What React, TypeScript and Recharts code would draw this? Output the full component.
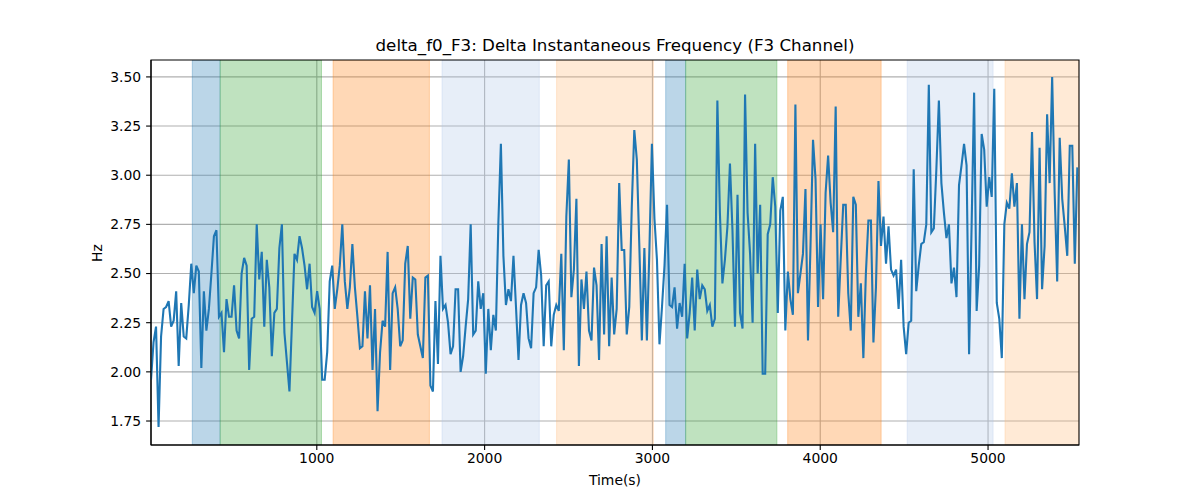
import { ComposedChart, Line, XAxis, YAxis, CartesianGrid, ReferenceArea } from 'recharts';

// sampling of the instantaneous-frequency track (seconds)
const T0 = 12;
const DT = 15;

// delta f0, F3 channel (Hz)
const freqHz = [
  1.96, 2.15, 2.23, 1.72, 2.18, 2.32, 2.33, 2.36, 2.23, 2.26, 2.41, 2.03, 2.35, 2.18, 2.17, 2.34,
  2.55, 2.4, 2.54, 2.51, 2.02, 2.41, 2.21, 2.32, 2.5, 2.69, 2.72, 2.28, 2.3, 2.1, 2.37, 2.28,
  2.28, 2.44, 2.21, 2.17, 2.5, 2.58, 2.54, 2.01, 2.27, 2.28, 2.75, 2.47, 2.61, 2.23, 2.57, 2.43,
  2.08, 2.3, 2.32, 2.63, 2.75, 2.2, 2.05, 1.9, 2.25, 2.6, 2.57, 2.69, 2.63, 2.54, 2.42, 2.55,
  2.33, 2.3, 2.41, 2.32, 1.96, 1.96, 2.1, 2.46, 2.54, 2.32, 2.42, 2.54, 2.75, 2.46, 2.32, 2.43,
  2.65, 2.43, 2.28, 2.12, 2.13, 2.41, 2.17, 2.44, 2.01, 2.32, 1.8, 2.1, 2.26, 2.23, 2.61, 2.01,
  2.4, 2.43, 2.32, 2.13, 2.16, 2.55, 2.64, 2.27, 2.48, 2.47, 2.19, 2.13, 2.07, 2.48, 2.49, 1.93,
  1.9, 2.36, 2.04, 2.59, 2.32, 2.34, 2.25, 2.09, 2.13, 2.42, 2.42, 2.0, 2.08, 2.23, 2.37, 2.75,
  2.19, 2.21, 2.46, 2.32, 2.4, 1.99, 2.32, 2.11, 2.29, 2.21, 2.76, 3.16, 2.59, 2.34, 2.42, 2.36,
  2.59, 2.33, 2.06, 2.34, 2.4, 2.35, 2.17, 2.12, 2.4, 2.43, 2.62, 2.49, 2.13, 2.44, 2.46, 2.13,
  2.29, 2.34, 2.31, 2.6, 2.11, 2.79, 3.08, 2.38, 2.52, 2.88, 2.03, 2.47, 2.32, 2.51, 2.21, 2.16,
  2.53, 2.44, 2.06, 2.65, 2.19, 2.69, 2.13, 2.48, 2.19, 2.32, 2.96, 2.62, 2.62, 2.19, 2.33, 2.84,
  3.23, 3.08, 2.64, 2.16, 2.63, 2.16, 2.62, 3.16, 2.78, 2.57, 2.14, 2.33, 2.54, 2.85, 2.34, 2.33,
  2.43, 2.22, 2.35, 2.28, 2.55, 2.17, 2.3, 2.48, 2.21, 2.52, 2.37, 2.44, 2.42, 2.31, 2.34, 2.23,
  2.27, 3.38, 2.81, 2.45, 2.57, 2.74, 3.06, 2.72, 2.23, 2.9, 2.3, 2.22, 3.41, 2.81, 2.6, 2.25,
  3.16, 2.5, 2.85, 1.99, 1.99, 2.7, 2.75, 2.99, 2.84, 2.3, 2.82, 2.89, 2.21, 2.51, 2.37, 2.29,
  3.36, 2.4, 2.5, 2.6, 2.93, 2.16, 2.64, 3.18, 2.98, 2.33, 2.75, 2.37, 2.91, 3.1, 2.86, 2.71,
  3.35, 2.28, 2.57, 2.85, 2.85, 2.4, 2.21, 2.89, 2.85, 2.28, 2.45, 2.07, 2.5, 2.77, 2.77, 2.15,
  2.43, 2.97, 2.64, 2.79, 2.55, 2.74, 2.52, 2.49, 2.52, 2.32, 2.57, 2.23, 2.09, 2.25, 2.26, 3.03,
  2.41, 2.54, 2.65, 2.66, 2.75, 3.46, 2.71, 2.73, 3.03, 3.38, 2.96, 2.81, 2.68, 2.75, 2.45, 2.53,
  2.38, 2.95, 3.05, 3.16, 3.05, 2.09, 2.74, 3.42, 2.31, 2.54, 3.21, 3.13, 2.84, 2.99, 2.89, 3.44,
  2.35, 2.27, 2.07, 2.75, 2.86, 2.83, 3.01, 2.84, 2.96, 2.27, 2.75, 2.37, 2.65, 2.71, 3.22, 2.66,
  2.37, 3.14, 2.42, 2.64, 3.31, 2.96, 3.5, 2.91, 2.46, 3.19, 2.88, 2.74, 2.59, 3.15, 3.15, 2.55,
  3.04,
];

// shaded segments (seconds)
const spanStart = [258, 424, 1097, 1746, 2429, 3079, 3198, 3806, 4518, 5101];
const spanEnd = [424, 1028, 1671, 2326, 3006, 3198, 3742, 4363, 5030, 5542];
const spanKind = ['blue', 'green', 'orange', 'lightblue', 'lightorange', 'blue', 'green', 'orange', 'lightblue', 'lightorange'];

const xTicks = [1000, 2000, 3000, 4000, 5000];
const yTicks = [1.75, 2.0, 2.25, 2.5, 2.75, 3.0, 3.25, 3.5];

const X_MIN = 12;
const X_MAX = 5542;
const Y_MIN = 1.628;
const Y_MAX = 3.586;

const SPAN_COLORS: Record<string, string> = {
  blue: '#1f77b4',
  green: '#2ca02c',
  orange: '#ff7f0e',
  lightblue: '#aec7e8',
  lightorange: '#ffbb78',
};

const data = freqHz.map((v, i) => ({ t: T0 + i * DT, v }));

const FONT = '"DejaVu Sans", sans-serif';
const tickStyle = { fill: '#000', fontSize: 13.9, fontFamily: FONT };

export default function App() {
  return (
    <div style={{ position: 'absolute', left: 0, top: 0, width: 1200, height: 500, background: '#fff', fontFamily: FONT }}>
      <div style={{ position: 'absolute', left: 151, width: 928, top: 35, textAlign: 'center', fontSize: 16.7, color: '#000' }}>
        delta_f0_F3: Delta Instantaneous Frequency (F3 Channel)
      </div>
      <div style={{ position: 'absolute', left: 151, width: 928, top: 472, textAlign: 'center', fontSize: 13.9, color: '#000' }}>
        Time(s)
      </div>
      <div
        style={{
          position: 'absolute',
          left: 97,
          top: 253,
          transform: 'translate(-50%, -50%) rotate(-90deg)',
          fontSize: 13.9,
          color: '#000',
        }}
      >
        Hz
      </div>

      <ComposedChart width={1200} height={500} data={data} margin={{ top: 60, right: 121, bottom: 0, left: 0 }}>
        {spanStart.map((s, i) => (
          <ReferenceArea
            key={i}
            x1={s}
            x2={spanEnd[i]}
            y1={Y_MIN}
            y2={Y_MAX}
            fill={SPAN_COLORS[spanKind[i]]}
            fillOpacity={0.3}
            stroke={SPAN_COLORS[spanKind[i]]}
            strokeOpacity={0.3}
            ifOverflow="hidden"
          />
        ))}
        <CartesianGrid stroke="#b0b0b0" strokeWidth={1.1} horizontalValues={yTicks} verticalValues={xTicks} />
        <XAxis
          dataKey="t"
          type="number"
          domain={[X_MIN, X_MAX]}
          ticks={xTicks}
          allowDataOverflow
          height={55}
          tick={tickStyle}
          tickSize={4.9}
          tickMargin={3}
          stroke="#000"
          axisLine={{ stroke: '#000', strokeWidth: 1.1 }}
          tickLine={{ stroke: '#000', strokeWidth: 1.1 }}
        />
        <YAxis
          type="number"
          domain={[Y_MIN, Y_MAX]}
          ticks={yTicks}
          allowDataOverflow
          width={151}
          tick={tickStyle}
          tickSize={4.9}
          tickMargin={4.9}
          tickFormatter={(v: number) => v.toFixed(2)}
          axisLine={{ stroke: '#000', strokeWidth: 1.1 }}
          tickLine={{ stroke: '#000', strokeWidth: 1.1 }}
        />
        <Line
          type="linear"
          dataKey="v"
          stroke="#1f77b4"
          strokeWidth={2.1}
          dot={false}
          isAnimationActive={false}
        />
        <ReferenceArea x1={X_MIN} x2={X_MAX} y1={Y_MIN} y2={Y_MAX} fill="none" stroke="#000" strokeWidth={1.1} />
      </ComposedChart>
    </div>
  );
}
